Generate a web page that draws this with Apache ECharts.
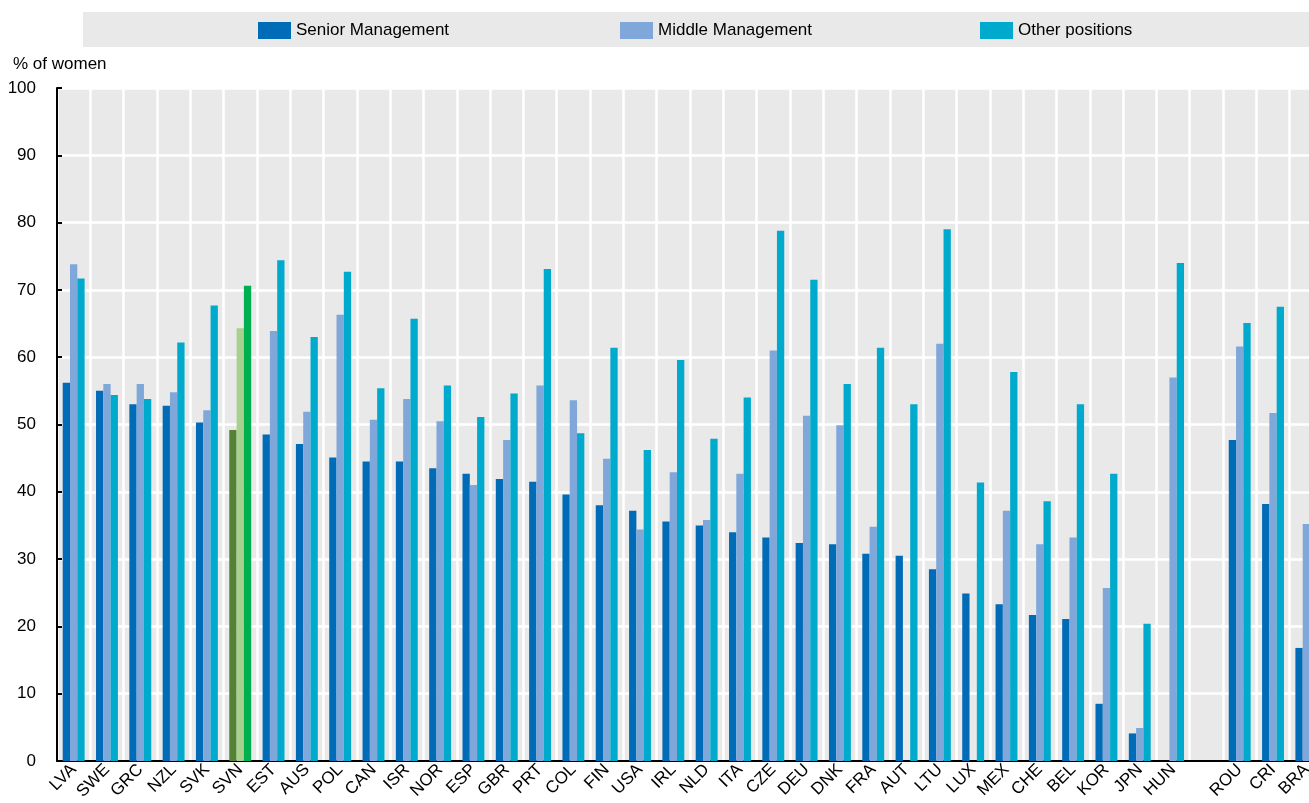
<!DOCTYPE html>
<html>
<head>
<meta charset="utf-8">
<script src="https://cdn.jsdelivr.net/npm/echarts@6/dist/echarts.min.js"></script>
<style>
  html, body { margin: 0; padding: 0; background: #fff; }
  #chart { width: 1309px; height: 803px; }
</style>
</head>
<body>
<div id="chart"></div>
<script>
// countries, gap before ROU is intentional
const categories = ['LVA', 'SWE', 'GRC', 'NZL', 'SVK', 'SVN', 'EST', 'AUS', 'POL', 'CAN',
  'ISR', 'NOR', 'ESP', 'GBR', 'PRT', 'COL', 'FIN', 'USA', 'IRL', 'NLD',
  'ITA', 'CZE', 'DEU', 'DNK', 'FRA', 'AUT', 'LTU', 'LUX', 'MEX', 'CHE',
  'BEL', 'KOR', 'JPN', 'HUN', '', 'ROU', 'CRI', 'BRA'];

const senior = [56.2, 55.0, 53.0, 52.8, 50.3, 49.2, 48.5, 47.1, 45.1, 44.5,
  44.5, 43.5, 42.7, 41.9, 41.5, 39.6, 38.0, 37.2, 35.6, 35.0,
  34.0, 33.2, 32.4, 32.2, 30.8, 30.5, 28.5, 24.9, 23.3, 21.7,
  21.1, 8.5, 4.1, null, null, 47.7, 38.2, 16.8];

const middle = [73.8, 56.0, 56.0, 54.8, 52.1, 64.3, 63.9, 51.9, 66.3, 50.7,
  53.8, 50.5, 41.0, 47.7, 55.8, 53.6, 44.9, 34.4, 42.9, 35.8,
  42.7, 61.0, 51.3, 49.9, 34.8, null, 62.0, null, 37.2, 32.2,
  33.2, 25.7, 4.9, 57.0, null, 61.6, 51.7, 35.2];

const other = [71.7, 54.4, 53.8, 62.2, 67.7, 70.6, 74.4, 63.0, 72.7, 55.4,
  65.7, 55.8, 51.1, 54.6, 73.1, 48.7, 61.4, 46.2, 59.6, 47.9,
  54.0, 78.8, 71.5, 56.0, 61.4, 53.0, 79.0, 41.4, 57.8, 38.6,
  53.0, 42.7, 20.4, 74.0, null, 65.1, 67.5, 44.1];

const yTicks = [0, 10, 20, 30, 40, 50, 60, 70, 80, 90, 100];

const highlight = 'SVN';
const font = '"Liberation Sans", Arial, sans-serif';

function withHighlight(values, color) {
  return values.map((v, i) => {
    if (categories[i] === highlight) {
      return { value: v, itemStyle: { color: color } };
    }
    return v;
  });
}

const chart = echarts.init(document.getElementById('chart'));

function legendItem(name, left) {
  return {
    data: [name],
    left: left,
    top: 22,
    padding: 0,
    icon: 'rect',
    itemWidth: 33,
    itemHeight: 17,
    selectedMode: false,
    textStyle: { fontFamily: font, fontSize: 17, color: '#000' },
  };
}

const option = {
  animation: false,
  textStyle: { fontFamily: font },
  graphic: [
    {
      type: 'rect',
      shape: { x: 83, y: 12, width: 1240, height: 35 },
      style: { fill: '#e9e9e9' },
      z: -10,
    },
    {
      type: 'text',
      left: 13,
      top: 56,
      style: { text: '% of women', fontFamily: font, fontSize: 17, fill: '#000' },
    },
  ],
  legend: [
    legendItem('Senior Management', 258),
    legendItem('Middle Management', 620),
    legendItem('Other positions', 980),
  ],
  // plot runs past the right edge, BRA is cut off like in the source
  grid: {
    left: 57,
    width: 1266,
    top: 88,
    bottom: 42,
    outerBoundsMode: 'none',
    containLabel: false,
    show: true,
    backgroundColor: '#e9e9e9',
    borderWidth: 0,
  },
  xAxis: {
    type: 'category',
    data: categories,
    axisLine: { lineStyle: { color: '#000', width: 2 } },
    axisTick: { inside: true, length: 5, interval: 0, lineStyle: { color: '#000', width: 2 } },
    axisLabel: { interval: 0, rotate: 45, fontSize: 17, color: '#000', margin: 6, fontFamily: font },
    splitLine: { show: true, interval: 0, lineStyle: { color: '#fff', width: 2.5 } },
  },
  yAxis: {
    type: 'value',
    min: yTicks[0],
    max: yTicks[yTicks.length - 1],
    interval: 10,
    axisLine: { show: true, lineStyle: { color: '#000', width: 2 } },
    axisTick: { show: true, inside: true, length: 5, lineStyle: { color: '#000', width: 2 } },
    axisLabel: { fontSize: 17, color: '#000', margin: 21, fontFamily: font },
    splitLine: { lineStyle: { color: '#fff', width: 2.5 } },
  },
  series: [
    {
      name: 'Senior Management',
      type: 'bar',
      data: withHighlight(senior, '#548235'),
      barWidth: 7.3,
      barGap: '0%',
      itemStyle: { color: '#006bb6' },
    },
    {
      name: 'Middle Management',
      type: 'bar',
      data: withHighlight(middle, '#a9d18e'),
      barWidth: 7.3,
      barGap: '0%',
      itemStyle: { color: '#7fa7d9' },
    },
    {
      name: 'Other positions',
      type: 'bar',
      data: withHighlight(other, '#00b050'),
      barWidth: 7.3,
      barGap: '0%',
      itemStyle: { color: '#00aacc' },
    },
  ],
};

chart.setOption(option);
</script>
</body>
</html>
